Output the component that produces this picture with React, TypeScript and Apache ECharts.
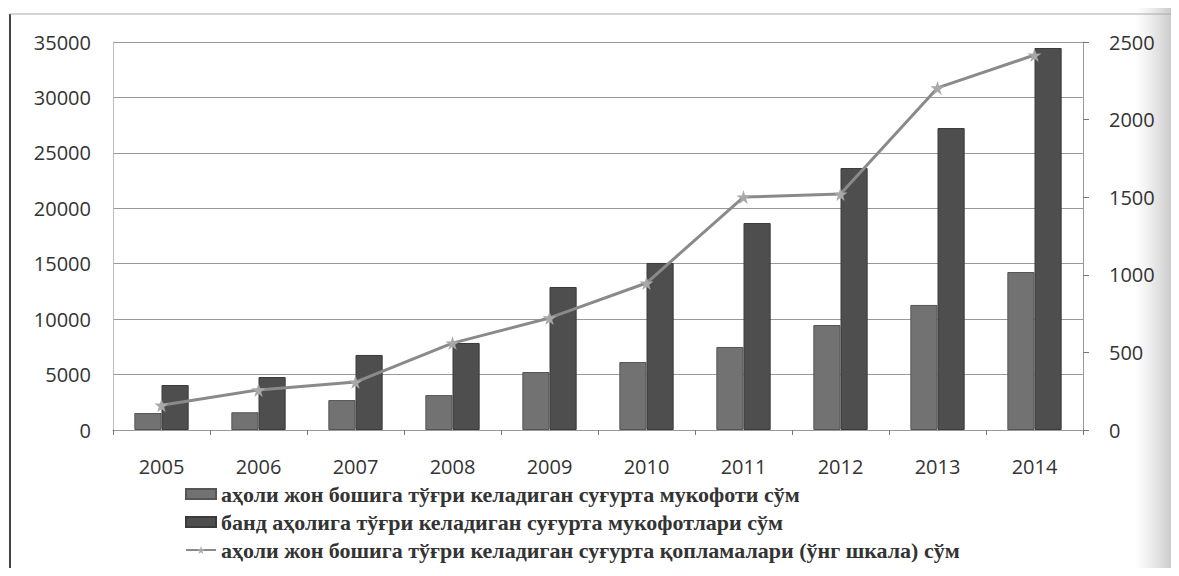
import React, { useEffect, useRef } from "react";
import * as echarts from "echarts";

const years = ["2005", "2006", "2007", "2008", "2009", "2010", "2011", "2012", "2013", "2014"];
const premiumPerCapita = [1530, 1600, 2700, 3150, 5230, 6130, 7490, 9470, 11280, 14250];
const premiumEmployed = [4060, 4780, 6770, 7850, 12900, 15070, 18670, 23630, 27240, 34460];
const coveragePerCapita = [160, 258, 309, 560, 722, 947, 1501, 1520, 2204, 2416];
const leftTicks = [0, 35000, 5000];
const rightTicks = [0, 2500, 500];

const seriesNames = [
  "аҳоли жон бошига тўғри келадиган суғурта мукофоти сўм",
  "банд аҳолига тўғри келадиган суғурта мукофотлари сўм",
  "аҳоли жон бошига тўғри келадиган суғурта қопламалари (ўнг шкала) сўм",
];

const star = "path://M50,0 L61,35 L98,35 L68,57 L79,91 L50,70 L21,91 L32,57 L2,35 L39,35 Z";

export default function App() {
  const ref = useRef<HTMLDivElement>(null);
  useEffect(() => {
    if (!ref.current) return;
    const chart = echarts.init(ref.current, undefined, { renderer: "svg" });
    const axisFont = { fontFamily: "Open Sans", fontSize: 20, color: "#333", formatter: (v: any) => String(v) };
    chart.setOption({
      animation: false,
      backgroundColor: "#fff",
      grid: { left: 113, right: 96, top: 42, bottom: 146 },
      graphic: [
        {
          type: "rect",
          shape: { x: 1135, y: 0, width: 44, height: 576 },
          style: {
            fill: new echarts.graphic.LinearGradient(0, 0, 1, 0, [
              { offset: 0, color: "rgba(200,200,200,0)" },
              { offset: 1, color: "rgba(170,170,170,0.8)" },
            ]),
          },
          z: -1,
        },
        { type: "line", shape: { x1: 10, y1: 14, x2: 10, y2: 576 }, style: { stroke: "#444", lineWidth: 2 } },
        { type: "line", shape: { x1: 10, y1: 14, x2: 1179, y2: 14 }, style: { stroke: "#aaa", lineWidth: 1 } },
        { type: "line", shape: { x1: 10, y1: 573, x2: 1179, y2: 573 }, style: { stroke: "#bbb", lineWidth: 1, lineDash: [2, 2] } },
      ],
      legend: {
        orient: "vertical",
        left: 180,
        top: 478,
        itemWidth: 30,
        itemHeight: 10,
        itemGap: 6,
        textStyle: { fontFamily: "Liberation Serif", fontSize: 22, fontWeight: "bold", color: "#333" },
        data: [
          { name: seriesNames[0], icon: "rect" },
          { name: seriesNames[1], icon: "rect" },
          { name: seriesNames[2] },
        ],
      },
      xAxis: {
        type: "category",
        data: years,
        axisLine: { lineStyle: { color: "#999" } },
        axisTick: { show: true, length: 5, lineStyle: { color: "#777" } },
        axisLabel: { ...axisFont, formatter: undefined, margin: 26 },
      },
      yAxis: [
        {
          type: "value",
          min: leftTicks[0],
          max: leftTicks[1],
          interval: leftTicks[2],
          axisLine: { show: true, lineStyle: { color: "#bbb" } },
          axisTick: { show: false },
          splitLine: { lineStyle: { color: "#999", width: 1 } },
          axisLabel: { ...axisFont, margin: 22 },
        },
        {
          type: "value",
          min: rightTicks[0],
          max: rightTicks[1],
          interval: rightTicks[2],
          position: "right",
          axisLine: { show: true, lineStyle: { color: "#999" } },
          axisTick: { show: true, length: 6, lineStyle: { color: "#777" } },
          splitLine: { show: false },
          axisLabel: { ...axisFont, margin: 26 },
        },
      ],
      series: [
        {
          name: seriesNames[0],
          type: "bar",
          data: premiumPerCapita,
          barGap: "0%",
          barCategoryGap: "44%",
          itemStyle: { color: "#727272", borderColor: "#555", borderWidth: 1 },
        },
        {
          name: seriesNames[1],
          type: "bar",
          data: premiumEmployed,
          itemStyle: { color: "#4e4e4e", borderColor: "#3a3a3a", borderWidth: 1 },
        },
        {
          name: seriesNames[2],
          type: "line",
          yAxisIndex: 1,
          data: coveragePerCapita,
          symbol: star,
          symbolSize: 14,
          lineStyle: { color: "#8a8a8a", width: 3 },
          itemStyle: { color: "#a8a8a8" },
          z: 5,
        },
      ],
    });
    return () => chart.dispose();
  }, []);
  return <div ref={ref} style={{ width: 1179, height: 576, margin: -8 }} />;
}
